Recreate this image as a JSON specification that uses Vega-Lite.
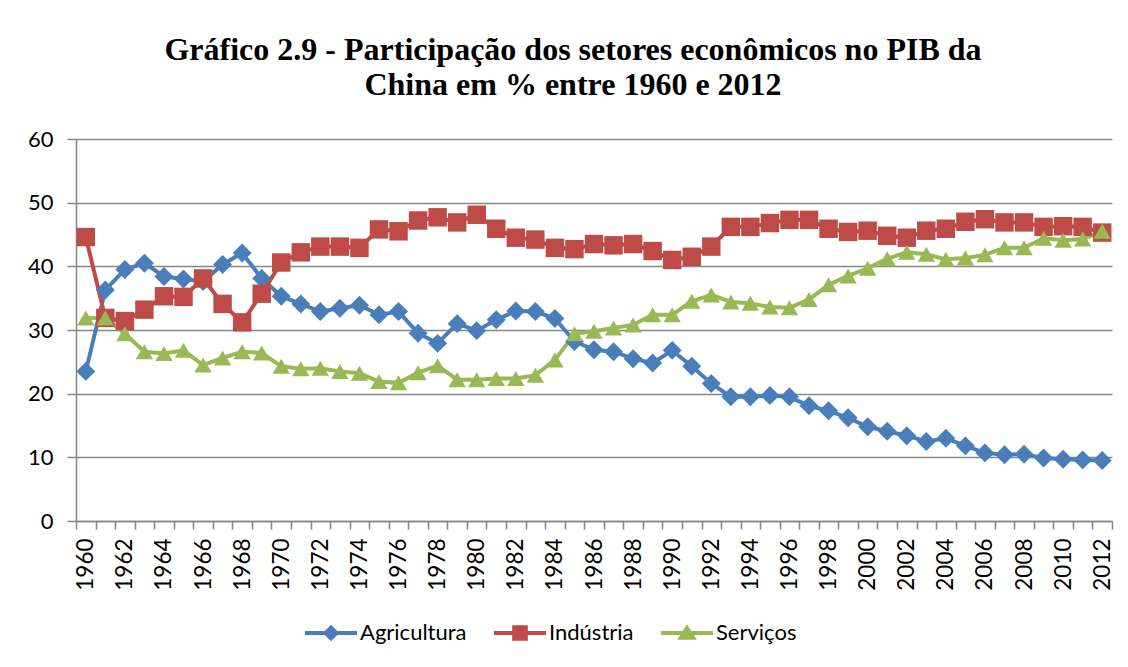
{
  "$schema": "https://vega.github.io/schema/vega-lite/v6.json",
  "autosize": "none",
  "width": 1036,
  "height": 382,
  "padding": {"left": 76, "top": 139, "right": 16, "bottom": 146},
  "background": "white",
  "title": {
    "text": ["Gráfico 2.9 - Participação dos setores econômicos no PIB da", "China em % entre 1960 e 2012"],
    "font": "Liberation Serif",
    "fontSize": 32,
    "fontWeight": "bold",
    "lineHeight": 35,
    "anchor": "middle",
    "frame": "group",
    "dx": -21,
    "offset": 26,
    "color": "black"
  },
  "data": {
    "values": [
      {"ano": 1960, "Agricultura": 23.5, "Indústria": 44.6, "Serviços": 31.9},
      {"ano": 1961, "Agricultura": 36.3, "Indústria": 31.9, "Serviços": 31.9},
      {"ano": 1962, "Agricultura": 39.5, "Indústria": 31.4, "Serviços": 29.4},
      {"ano": 1963, "Agricultura": 40.5, "Indústria": 33.2, "Serviços": 26.6},
      {"ano": 1964, "Agricultura": 38.4, "Indústria": 35.3, "Serviços": 26.3},
      {"ano": 1965, "Agricultura": 38.0, "Indústria": 35.2, "Serviços": 26.8},
      {"ano": 1966, "Agricultura": 37.6, "Indústria": 38.1, "Serviços": 24.5},
      {"ano": 1967, "Agricultura": 40.3, "Indústria": 34.1, "Serviços": 25.6},
      {"ano": 1968, "Agricultura": 42.1, "Indústria": 31.2, "Serviços": 26.6},
      {"ano": 1969, "Agricultura": 38.1, "Indústria": 35.7, "Serviços": 26.4},
      {"ano": 1970, "Agricultura": 35.3, "Indústria": 40.6, "Serviços": 24.3},
      {"ano": 1971, "Agricultura": 34.1, "Indústria": 42.2, "Serviços": 23.9},
      {"ano": 1972, "Agricultura": 32.9, "Indústria": 43.1, "Serviços": 24.0},
      {"ano": 1973, "Agricultura": 33.4, "Indústria": 43.1, "Serviços": 23.5},
      {"ano": 1974, "Agricultura": 33.9, "Indústria": 42.9, "Serviços": 23.2},
      {"ano": 1975, "Agricultura": 32.4, "Indústria": 45.8, "Serviços": 21.9},
      {"ano": 1976, "Agricultura": 32.9, "Indústria": 45.5, "Serviços": 21.7},
      {"ano": 1977, "Agricultura": 29.5, "Indústria": 47.2, "Serviços": 23.3},
      {"ano": 1978, "Agricultura": 27.9, "Indústria": 47.7, "Serviços": 24.4},
      {"ano": 1979, "Agricultura": 31.0, "Indústria": 46.9, "Serviços": 22.2},
      {"ano": 1980, "Agricultura": 29.9, "Indústria": 48.1, "Serviços": 22.2},
      {"ano": 1981, "Agricultura": 31.6, "Indústria": 45.9, "Serviços": 22.4},
      {"ano": 1982, "Agricultura": 33.0, "Indústria": 44.5, "Serviços": 22.4},
      {"ano": 1983, "Agricultura": 32.9, "Indústria": 44.2, "Serviços": 22.9},
      {"ano": 1984, "Agricultura": 31.8, "Indústria": 42.9, "Serviços": 25.3},
      {"ano": 1985, "Agricultura": 28.2, "Indústria": 42.7, "Serviços": 29.4},
      {"ano": 1986, "Agricultura": 26.9, "Indústria": 43.5, "Serviços": 29.8},
      {"ano": 1987, "Agricultura": 26.6, "Indústria": 43.3, "Serviços": 30.3},
      {"ano": 1988, "Agricultura": 25.5, "Indústria": 43.5, "Serviços": 30.8},
      {"ano": 1989, "Agricultura": 24.8, "Indústria": 42.4, "Serviços": 32.4},
      {"ano": 1990, "Agricultura": 26.8, "Indústria": 41.0, "Serviços": 32.4},
      {"ano": 1991, "Agricultura": 24.3, "Indústria": 41.5, "Serviços": 34.5},
      {"ano": 1992, "Agricultura": 21.6, "Indústria": 43.1, "Serviços": 35.5},
      {"ano": 1993, "Agricultura": 19.5, "Indústria": 46.2, "Serviços": 34.4},
      {"ano": 1994, "Agricultura": 19.5, "Indústria": 46.2, "Serviços": 34.2},
      {"ano": 1995, "Agricultura": 19.7, "Indústria": 46.8, "Serviços": 33.6},
      {"ano": 1996, "Agricultura": 19.5, "Indústria": 47.3, "Serviços": 33.5},
      {"ano": 1997, "Agricultura": 18.1, "Indústria": 47.3, "Serviços": 34.8},
      {"ano": 1998, "Agricultura": 17.3, "Indústria": 45.9, "Serviços": 37.1},
      {"ano": 1999, "Agricultura": 16.2, "Indústria": 45.4, "Serviços": 38.5},
      {"ano": 2000, "Agricultura": 14.8, "Indústria": 45.6, "Serviços": 39.7},
      {"ano": 2001, "Agricultura": 14.1, "Indústria": 44.8, "Serviços": 41.2},
      {"ano": 2002, "Agricultura": 13.4, "Indústria": 44.5, "Serviços": 42.2},
      {"ano": 2003, "Agricultura": 12.5, "Indústria": 45.6, "Serviços": 41.9},
      {"ano": 2004, "Agricultura": 13.0, "Indústria": 45.9, "Serviços": 41.1},
      {"ano": 2005, "Agricultura": 11.8, "Indústria": 47.0, "Serviços": 41.3},
      {"ano": 2006, "Agricultura": 10.7, "Indústria": 47.4, "Serviços": 41.8},
      {"ano": 2007, "Agricultura": 10.4, "Indústria": 46.9, "Serviços": 42.9},
      {"ano": 2008, "Agricultura": 10.5, "Indústria": 46.9, "Serviços": 42.9},
      {"ano": 2009, "Agricultura": 9.9, "Indústria": 46.2, "Serviços": 44.4},
      {"ano": 2010, "Agricultura": 9.7, "Indústria": 46.3, "Serviços": 44.1},
      {"ano": 2011, "Agricultura": 9.6, "Indústria": 46.2, "Serviços": 44.3},
      {"ano": 2012, "Agricultura": 9.5, "Indústria": 45.3, "Serviços": 45.5}
    ]
  },
  "transform": [
    {"fold": ["Agricultura", "Indústria", "Serviços"], "as": ["setor", "valor"]}
  ],
  "encoding": {
    "x": {
      "field": "ano",
      "type": "ordinal",
      "scale": {"type": "band", "paddingInner": 0, "paddingOuter": 0},
      "axis": {
        "title": null,
        "labelExpr": "datum.value % 2 == 0 ? datum.label : ''",
        "labelAngle": -90,
        "labelFont": "Lato",
        "labelFontSize": 22.5,
        "labelColor": "black",
        "labelPadding": 9,
        "tickBand": "extent",
        "tickSize": 8,
        "tickColor": "#868686",
        "tickWidth": 1.5,
        "domainColor": "#868686",
        "domainWidth": 1.5,
        "grid": false
      }
    },
    "y": {
      "field": "valor",
      "type": "quantitative",
      "scale": {"domain": [0, 60], "nice": false, "zero": true},
      "axis": {
        "title": null,
        "values": [0, 10, 20, 30, 40, 50, 60],
        "labelFont": "Lato",
        "labelFontSize": 22,
        "labelColor": "black",
        "labelPadding": 14,
        "tickSize": 9,
        "tickColor": "#868686",
        "tickWidth": 1.5,
        "domainColor": "#868686",
        "domainWidth": 1.5,
        "grid": true,
        "gridColor": "#868686",
        "gridWidth": 1.5
      }
    }
  },
  "layer": [
    {
      "transform": [{"filter": "datum.setor == 'Agricultura'"}],
      "mark": {"type": "line", "strokeWidth": 4, "color": "#4A7EBB"},
      "encoding": {}
    },
    {
      "transform": [{"filter": "datum.setor == 'Indústria'"}],
      "mark": {"type": "line", "strokeWidth": 4, "color": "#BE4B48"},
      "encoding": {}
    },
    {
      "transform": [{"filter": "datum.setor == 'Serviços'"}],
      "mark": {"type": "line", "strokeWidth": 4, "color": "#98B954"},
      "encoding": {}
    },
    {
      "transform": [{"filter": "datum.setor == 'Agricultura'"}],
      "mark": {"type": "point", "filled": true, "opacity": 1, "shape": "diamond", "size": 360, "color": "#4A7EBB"},
      "encoding": {}
    },
    {
      "transform": [{"filter": "datum.setor == 'Indústria'"}],
      "mark": {"type": "point", "filled": true, "opacity": 1, "shape": "square", "size": 340, "color": "#BE4B48"},
      "encoding": {}
    },
    {
      "transform": [{"filter": "datum.setor == 'Serviços'"}],
      "mark": {"type": "point", "filled": true, "opacity": 1, "shape": "triangle-up", "size": 300, "color": "#98B954"},
      "encoding": {}
    },
    {
      "mark": {"type": "point", "filled": true, "opacity": 0},
      "encoding": {
        "color": {
          "field": "setor",
          "type": "nominal",
          "scale": {"domain": ["Agricultura", "Indústria", "Serviços"], "range": ["#4A7EBB", "#BE4B48", "#98B954"]},
          "legend": {
            "title": null,
            "orient": "none",
            "legendX": 229,
            "legendY": 468,
            "direction": "horizontal",
            "columns": 3,
            "symbolSize": 2704,
            "symbolOpacity": 1,
            "symbolStrokeWidth": 0,
            "labelFont": "Lato",
            "labelFontSize": 22,
            "labelColor": "black",
            "labelOffset": 3,
            "columnPadding": 27
          }
        },
        "shape": {
          "field": "setor",
          "type": "nominal",
          "scale": {
            "domain": ["Agricultura", "Indústria", "Serviços"],
            "range": [
              "M-1,-0.08H1V0.08H-1Z M0,-0.32L0.32,0L0,0.32L-0.32,0Z",
              "M-1,-0.08H1V0.08H-1Z M-0.3,-0.3H0.3V0.3H-0.3Z",
              "M-1,-0.08H1V0.08H-1Z M0,-0.34L0.38,0.26H-0.38Z"
            ]
          },
          "legend": {
            "title": null,
            "orient": "none",
            "legendX": 229,
            "legendY": 468,
            "direction": "horizontal",
            "columns": 3,
            "symbolSize": 2704,
            "symbolOpacity": 1,
            "symbolStrokeWidth": 0,
            "labelFont": "Lato",
            "labelFontSize": 22,
            "labelColor": "black",
            "labelOffset": 3,
            "columnPadding": 27
          }
        }
      }
    }
  ],
  "config": {
    "view": {"stroke": null}
  }
}
